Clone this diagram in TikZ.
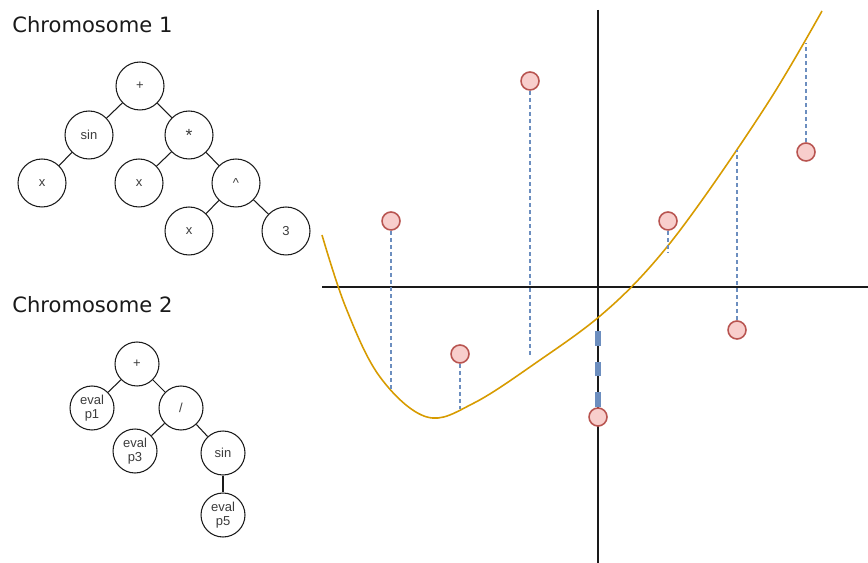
\documentclass[tikz,border=0pt]{standalone}
\usepackage{fontspec}
\setmainfont{Liberation Sans}
\newfontfamily\titlefont{DejaVu Sans}
\usetikzlibrary{calc}
\definecolor{inkdark}{HTML}{1A1A1A}
\definecolor{curveorange}{HTML}{D79B00}
\definecolor{dotfill}{HTML}{F8CECC}
\definecolor{dotline}{HTML}{B85450}
\definecolor{errblue}{HTML}{6C8EBF}
\tikzset{
  gene/.style={circle,draw=inkdark,fill=white,line width=0.6pt,
    minimum size=0.96cm,inner sep=0pt,text=inkdark!85,
    font=\fontsize{7.4}{7.8}\selectfont,align=center},
  genesmall/.style={gene,minimum size=0.88cm},
  branch/.style={inkdark,line width=0.6pt},
  sample/.style={circle,draw=dotline,fill=dotfill,line width=0.9pt,
    minimum size=0.36cm,inner sep=0pt},
  residual/.style={errblue,line width=0.6pt,dash pattern=on 2.3pt off 1.7pt},
  chromtitle/.style={anchor=base west,text=inkdark,inner sep=0pt,
    font=\titlefont\fontsize{12}{14}\selectfont}
}

\begin{document}
\begin{tikzpicture}[x=0.02cm,y=-0.02cm]
  \useasboundingbox (0,0) rectangle (868,563);

  \node[chromtitle] (title1) at (12,33) {Chromosome 1};
  \node[gene] (plus1) at (140,86) {+};
  \node[gene] (sin1) at (89,135) {sin};
  \node[gene] (times1) at (189,135) {\fontsize{10}{10}\selectfont *};
  \node[gene] (x1) at (42,183) {x};
  \node[gene] (x2) at (139,183) {x};
  \node[gene] (pow1) at (236,183) {\textasciicircum};
  \node[gene] (x3) at (189,231) {x};
  \node[gene] (three1) at (286,231) {3};
  \draw[branch] (plus1) -- (sin1);
  \draw[branch] (plus1) -- (times1);
  \draw[branch] (sin1) -- (x1);
  \draw[branch] (times1) -- (x2);
  \draw[branch] (times1) -- (pow1);
  \draw[branch] (pow1) -- (x3);
  \draw[branch] (pow1) -- (three1);

  \node[chromtitle] (title2) at (12,313) {Chromosome 2};
  \node[genesmall] (plus2) at (137,364) {+};
  \node[genesmall] (evalp1) at (92,408) {eval\\p1};
  \node[genesmall] (div2) at (181,408) {/};
  \node[genesmall] (evalp3) at (135,451) {eval\\p3};
  \node[genesmall] (sin2) at (223,453) {sin};
  \node[genesmall] (evalp5) at (223,515) {eval\\p5};
  \draw[branch] (plus2) -- (evalp1);
  \draw[branch] (plus2) -- (div2);
  \draw[branch] (div2) -- (evalp3);
  \draw[branch] (div2) -- (sin2);
  \draw[branch] (sin2) -- (evalp5);

  \coordinate (xl) at (322,287);
  \coordinate (xr) at (868,287);
  \coordinate (yt) at (598,10);
  \coordinate (yb) at (598,563);
  \draw[inkdark,line width=0.9pt] (xl) -- (xr);
  \draw[inkdark,line width=0.9pt] (yt) -- (yb);

  \draw[curveorange,line width=0.9pt] plot[smooth,tension=0.6] coordinates {
    (322,235) (346,308) (380,377) (427,417) (474,403)
    (540,360) (600,316) (650,267) (700,203) (771,98) (822,11)};

  \node[sample] (s1) at (391,221) {};
  \node[sample] (s2) at (460,354) {};
  \node[sample] (s3) at (530,81) {};
  \node[sample] (s4) at (598,417) {};
  \node[sample] (s5) at (668,221) {};
  \node[sample] (s6) at (737,330) {};
  \node[sample] (s7) at (806,152) {};
  \coordinate (e1) at (391,392);
  \coordinate (e2) at (460,409);
  \coordinate (e3) at (530,357);
  \coordinate (e4) at (598,331);
  \coordinate (e5) at (668,253);
  \coordinate (e6) at (737,150);
  \coordinate (e7) at (806,43);
  \draw[residual] (s1) -- (e1);
  \draw[residual] (s2) -- (e2);
  \draw[residual] (s3) -- (e3);
  \draw[errblue,line width=3.2pt,dash pattern=on 8.5pt off 9pt] (s4.north) -- (e4);
  \draw[residual] (s5) -- (e5);
  \draw[residual] (s6) -- (e6);
  \draw[residual] (s7) -- (e7);
\end{tikzpicture}
\end{document}
